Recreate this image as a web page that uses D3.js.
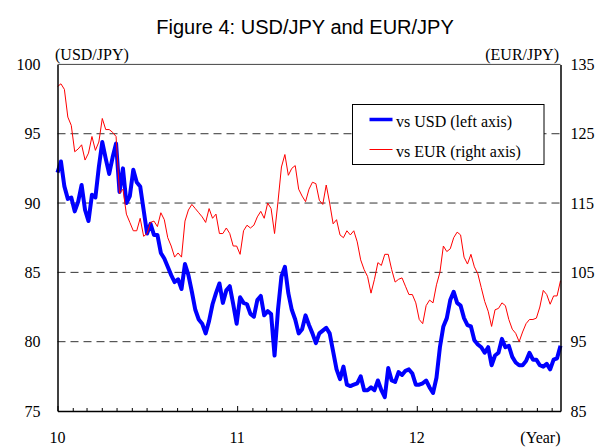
<!DOCTYPE html>
<html lang="en">
<head>
<meta charset="UTF-8">
<title>Figure 4: USD/JPY and EUR/JPY</title>
<style>
    body { margin: 0; background: #fff; }
    .title { font: 20px "Liberation Sans", Arial, sans-serif; }
    .lbl { font: 16px "Liberation Serif", "Times New Roman", serif; fill: #000; }
    .axis text { font: 16px "Liberation Serif", "Times New Roman", serif; fill: #000; }
    .axis path, .axis line { stroke: #000; }
</style>
<script src="https://d3js.org/d3.v7.min.js"></script>
</head>
<body>
<div id="chart"></div>
<script>
// weekly observations, first week starting 2010-01-01
var firstWeek = "2010-01-01";
var lastDay = "2012-10-19";

// yen per dollar (left axis)
var usdjpy = [
    92.2, 93.0, 91.2, 90.3, 90.4, 89.4, 90.1, 91.3, 89.5, 88.7,
    90.6, 90.4, 92.6, 94.4, 93.2, 92.1, 93.3, 94.3, 90.8, 92.5,
    90.0, 90.5, 92.4, 91.5, 91.2, 89.5, 87.8, 88.5, 87.7, 87.7,
    86.4, 86.0, 85.4, 84.8, 84.3, 84.5, 83.8, 85.6, 84.8, 83.6,
    82.3, 81.6, 81.3, 80.6, 81.5, 82.7, 83.5, 84.2, 82.8, 83.7,
    84.0, 82.7, 81.3, 83.2, 82.8, 82.7, 82.0, 81.8, 83.0, 83.3,
    81.9, 82.2, 82.0, 79.0, 82.3, 84.7, 85.4, 83.5, 82.3, 81.6,
    80.6, 80.9, 81.9, 81.2, 80.6, 79.9, 80.6, 80.8, 81.0, 80.6,
    79.3, 78.0, 77.3, 78.2, 76.9, 76.8, 76.9, 77.0, 77.5, 76.5,
    76.5, 76.7, 76.5, 77.2, 76.5, 76.0, 78.1, 77.2, 77.1, 77.8,
    77.6, 77.9, 78.0, 77.7, 76.9, 76.9, 77.0, 77.2, 76.7, 76.3,
    77.4, 79.6, 81.1, 81.7, 83.0, 83.6, 82.8, 82.6, 81.7, 81.2,
    81.1, 80.1, 79.8, 79.6, 79.2, 79.6, 78.3, 79.0, 79.2, 80.2,
    79.6, 79.7, 78.9, 78.5, 78.3, 78.3, 78.6, 79.2, 78.7, 78.7,
    78.3, 78.2, 78.4, 78.0, 78.7, 78.8, 79.7
];

// yen per euro (right axis)
var eurjpy = [
    131.8, 132.2, 131.4, 127.4, 126.2, 122.4, 122.8, 123.4, 121.2, 122.2,
    124.6, 122.6, 123.8, 127.2, 125.6, 125.6, 125.2, 124.6, 116.4, 117.0,
    113.4, 112.2, 111.0, 111.0, 112.8, 110.2, 110.6, 112.2, 112.4, 111.6,
    113.6, 112.6, 110.0, 108.8, 107.2, 107.8, 107.2, 112.4, 114.0, 114.8,
    114.2, 113.6, 113.0, 112.2, 114.2, 112.8, 113.4, 110.6, 110.6, 111.4,
    110.6, 108.8, 108.8, 107.6, 111.0, 111.8, 111.4, 111.8, 113.0, 113.8,
    112.8, 115.0, 114.2, 110.6, 115.2, 120.2, 122.0, 119.0, 120.0, 120.4,
    117.0, 116.0, 115.2, 117.0, 118.0, 117.8, 115.4, 114.8, 117.6, 115.0,
    112.0, 112.6, 110.4, 110.0, 111.0, 110.4, 111.0, 109.4, 106.8, 105.4,
    104.4, 102.0, 104.0, 106.4, 106.0, 107.6, 107.6, 105.4, 103.6, 104.0,
    104.2, 103.0, 101.8, 101.8, 100.6, 98.2, 97.6, 100.2, 101.0, 100.6,
    103.2, 105.0, 108.8, 108.0, 108.4, 110.0, 110.8, 110.4, 107.2, 106.2,
    107.6, 105.8, 104.8, 102.8, 100.8, 99.4, 97.2, 99.6, 99.8, 100.6,
    100.2, 98.2, 96.8, 96.2, 95.0, 96.4, 97.6, 98.2, 98.2, 98.4,
    100.0, 102.4, 101.8, 100.4, 101.6, 101.6, 103.8
];

var leftTicks = [75, 80, 85, 90, 95, 100];
var rightTicks = [85, 95, 105, 115, 125, 135];
var gridValues = [80, 85, 90, 95];
var yearLabels = ["10", "11", "12"];
var legendNames = ["vs USD (left axis)", "vs EUR (right axis)"];

var width = 601, height = 447;
var margin = {left: 57.5, right: 40.5, top: 64.4, bottom: 36};
var parse = d3.timeParse("%Y-%m-%d");
var start = parse(firstWeek);

var svg = d3.select("#chart").append("svg")
    .attr("width", width)
    .attr("height", height);

var x = d3.scaleTime()
    .domain([start, parse(lastDay)])
    .range([margin.left, width - margin.right]);
var yL = d3.scaleLinear().domain([75, 100]).range([height - margin.bottom, margin.top]);
var yR = d3.scaleLinear().domain([85, 135]).range([height - margin.bottom, margin.top]);

var usd = usdjpy.map(function(v, i) { return {date: d3.timeDay.offset(start, 7 * i), value: v}; });
var eur = eurjpy.map(function(v, i) { return {date: d3.timeDay.offset(start, 7 * i), value: v}; });

// title
svg.append("text")
    .attr("class", "title")
    .attr("x", 305).attr("y", 34)
    .attr("text-anchor", "middle")
    .text("Figure 4: USD/JPY and EUR/JPY");

// dashed grid
svg.append("g").selectAll("line")
    .data(gridValues)
    .enter().append("line")
    .attr("x1", margin.left).attr("x2", width - margin.right)
    .attr("y1", function(d) { return yL(d); })
    .attr("y2", function(d) { return yL(d); })
    .attr("stroke", "#333")
    .attr("stroke-dasharray", "8,5");

// series: blue below, red on top
var lineL = d3.line().x(function(d) { return x(d.date); }).y(function(d) { return yL(d.value); });
var lineR = d3.line().x(function(d) { return x(d.date); }).y(function(d) { return yR(d.value); });

svg.append("path").datum(usd)
    .attr("d", lineL)
    .attr("fill", "none")
    .attr("stroke", "#0000ff")
    .attr("stroke-width", 4)
    .attr("stroke-linejoin", "round");

svg.append("path").datum(eur)
    .attr("d", lineR)
    .attr("fill", "none")
    .attr("stroke", "#ff0000")
    .attr("stroke-width", 1);

// frame: top, left, right
svg.append("line")
    .attr("x1", margin.left).attr("x2", width - margin.right)
    .attr("y1", margin.top).attr("y2", margin.top)
    .attr("stroke", "#444");

svg.append("g")
    .attr("class", "axis")
    .attr("transform", "translate(" + margin.left + ",0)")
    .call(d3.axisLeft(yL).tickValues(leftTicks).tickSize(0).tickPadding(17))
    .call(function(g) { g.select(".domain").attr("stroke-width", 1.5); });

svg.append("g")
    .attr("class", "axis")
    .attr("transform", "translate(" + (width - margin.right) + ",0)")
    .call(d3.axisRight(yR).tickValues(rightTicks).tickSize(0).tickPadding(10))
    .call(function(g) { g.select(".domain").attr("stroke-width", 1.5); });

// bottom axis: monthly ticks pointing inward, longer at year starts
var xAxis = svg.append("g")
    .attr("class", "axis")
    .attr("transform", "translate(0," + (height - margin.bottom) + ")")
    .call(d3.axisBottom(x).ticks(d3.timeMonth.every(1)).tickSizeInner(-3).tickSizeOuter(0).tickFormat(""));
xAxis.select(".domain").attr("stroke-width", 1.5);
xAxis.selectAll(".tick line")
    .attr("y2", function(d) { return d.getMonth() === 0 ? -5 : -3; });

svg.append("g").selectAll("text")
    .data(yearLabels)
    .enter().append("text")
    .attr("class", "lbl")
    .attr("x", function(d) { return x(parse("20" + d + "-01-01")); })
    .attr("y", 443)
    .attr("text-anchor", "middle")
    .text(function(d) { return d; });

svg.append("text").attr("class", "lbl")
    .attr("x", width - margin.right).attr("y", 443)
    .attr("text-anchor", "end")
    .text("(Year)");

svg.append("text").attr("class", "lbl")
    .attr("x", 55).attr("y", 60)
    .text("(USD/JPY)");

svg.append("text").attr("class", "lbl")
    .attr("x", 559).attr("y", 60)
    .attr("text-anchor", "end")
    .text("(EUR/JPY)");

// legend
var legend = svg.append("g").attr("transform", "translate(352.5,104.5)");
legend.append("rect")
    .attr("width", 191.5).attr("height", 60)
    .attr("fill", "#fff")
    .attr("stroke", "#000");

var legendStyles = [{color: "#0000ff", w: 3.5}, {color: "#ff0000", w: 1}];
legendNames.forEach(function(name, i) {
    var yy = 15 + i * 30;
    legend.append("line")
        .attr("x1", 17).attr("x2", 40)
        .attr("y1", yy).attr("y2", yy)
        .attr("stroke", legendStyles[i].color)
        .attr("stroke-width", legendStyles[i].w);
    legend.append("text")
        .attr("class", "lbl")
        .attr("x", 43.5).attr("y", yy + 7)
        .text(name);
});
</script>
</body>
</html>
